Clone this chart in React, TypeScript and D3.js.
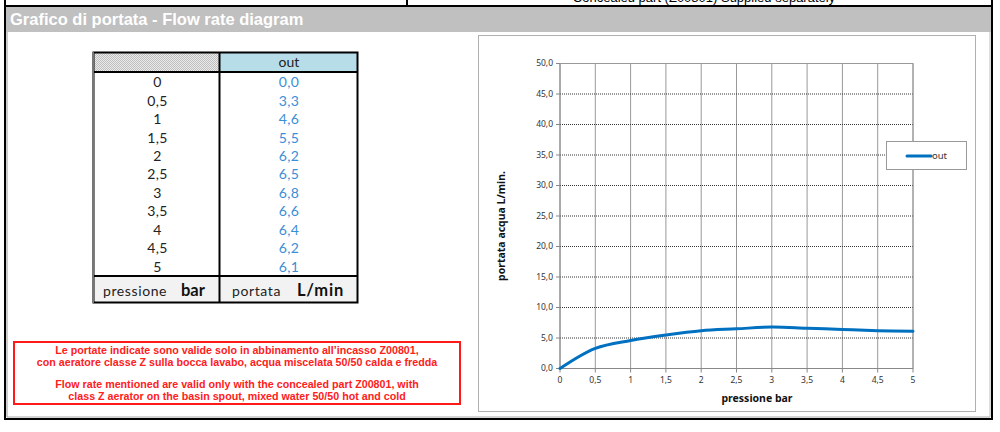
import React from "react";
import * as d3 from "d3";

const pressure = [0, 0.5, 1, 1.5, 2, 2.5, 3, 3.5, 4, 4.5, 5];
const flow = [0, 3.3, 4.6, 5.5, 6.2, 6.5, 6.8, 6.6, 6.4, 6.2, 6.1];
const xTicks = [0, 0.5, 1, 1.5, 2, 2.5, 3, 3.5, 4, 4.5, 5];
const yTicks = [0, 5, 10, 15, 20, 25, 30, 35, 40, 45, 50];
const seriesName = "out";
const noteLines = [
  "Le portate indicate sono valide solo in abbinamento all\u2019incasso Z00801,",
  "con aeratore classe Z sulla bocca lavabo, acqua miscelata 50/50 calda e fredda",
  "",
  "Flow rate mentioned are valid only with the concealed part Z00801, with",
  "class Z aerator on the basin spout, mixed water 50/50 hot and cold",
];

const comma = (v: number, f: string) => d3.format(f)(v).replace(".", ",");

export default function App() {
  const x = d3.scaleLinear().domain([0, 5]).range([560, 913]);
  const y = d3.scaleLinear().domain([0, 50]).range([368.5, 63.5]);
  const line = d3
    .line<number>()
    .x((_, i) => x(pressure[i]))
    .y((d) => y(d))
    .curve(d3.curveCatmullRom.alpha(0.5));
  const rowY = d3.scaleLinear().domain([0, pressure.length - 1]).range([82.3, 266.7]);
  const noteY = d3.scaleLinear().domain([0, 4]).range([350.5, 396]);

  const tableFont = "Lato, 'Noto Sans', sans-serif";
  const chartFont = "'Noto Sans', Lato, sans-serif";
  const arial = "'Liberation Sans', Arial, sans-serif";

  return (
    <svg
      width={1000}
      height={432}
      style={{ position: "absolute", left: 0, top: 0, background: "#fff" }}
    >
      <defs>
        <pattern id="chk" width={2} height={2} patternUnits="userSpaceOnUse">
          <rect width={2} height={2} fill="#ececec" />
          <rect width={1} height={1} fill="#bdbdbd" />
          <rect x={1} y={1} width={1} height={1} fill="#bdbdbd" />
        </pattern>
      </defs>

      {/* top cut-off text */}
      <text x={704} y={2.2} textAnchor="middle" fontFamily={arial} fontSize={13} fill="#000">
        Concealed part (Z00801) Supplied separately
      </text>
      <line x1={407} x2={407} y1={0} y2={6} stroke="#000" strokeWidth={2} />

      {/* gray header */}
      <rect x={6} y={7} width={986} height={25} fill="#c0c0c0" />
      <text x={10} y={25} fontFamily={arial} fontWeight="bold" fontSize={16.5} fill="#fff">
        Grafico di portata - Flow rate diagram
      </text>

      {/* outer frame */}
      <line x1={4} x2={993} y1={6} y2={6} stroke="#000" strokeWidth={2} />
      <line x1={5} x2={5} y1={0} y2={420} stroke="#000" strokeWidth={2} />
      <line x1={7} x2={7} y1={32} y2={417} stroke="#999" strokeWidth={1} />
      <line x1={992} x2={992} y1={0} y2={420} stroke="#000" strokeWidth={2} />
      <line x1={990} x2={990} y1={32} y2={417} stroke="#bbb" strokeWidth={1} />
      <line x1={4} x2={993} y1={419} y2={419} stroke="#000" strokeWidth={2} />
      <line x1={7} x2={990} y1={417} y2={417} stroke="#aaa" strokeWidth={1} />

      {/* table */}
      <rect x={93.5} y={52.5} width={125.5} height={19.5} fill="url(#chk)" />
      <rect x={219.5} y={52.5} width={138} height={19.5} fill="#b7dee8" />
      <rect x={93.5} y={276} width={264} height={26.5} fill="#f2f2f2" />
      <text x={289} y={62.5} dy="0.35em" textAnchor="middle" fontFamily={tableFont} fontSize={14} fill="#222">
        {seriesName}
      </text>
      {pressure.map((p, i) => (
        <g key={i}>
          <text x={157.5} y={rowY(i)} dy="0.35em" textAnchor="middle" fontFamily={tableFont} fontSize={14} fill="#222" letterSpacing={0.3}>
            {comma(p, "")}
          </text>
          <text x={289} y={rowY(i)} dy="0.35em" textAnchor="middle" fontFamily={tableFont} fontSize={14} fill="#3b8ed8" letterSpacing={0.3}>
            {comma(flow[i], ".1f")}
          </text>
        </g>
      ))}
      <text x={103} y={296} fontFamily={tableFont} fontSize={14} fill="#222" letterSpacing={0.6}>pressione</text>
      <text x={181} y={296} fontFamily={tableFont} fontSize={16.5} fontWeight="bold" fill="#111">bar</text>
      <text x={232} y={296} fontFamily={tableFont} fontSize={14} fill="#222" letterSpacing={0.6}>portata</text>
      <text x={297} y={296} fontFamily={tableFont} fontSize={16.5} fontWeight="bold" fill="#111" letterSpacing={0.8}>L/min</text>
      <g stroke="#000" strokeWidth={2} fill="none">
        <rect x={93.5} y={52.5} width={264} height={250} />
        <line x1={219.5} x2={219.5} y1={52.5} y2={302.5} />
        <line x1={93.5} x2={357.5} y1={72} y2={72} />
        <line x1={93.5} x2={357.5} y1={276} y2={276} />
      </g>
      <line x1={93} x2={93} y1={52} y2={303} stroke="#777" strokeWidth={2} />

      {/* red note */}
      <rect x={14} y={342} width={446} height={62} fill="none" stroke="#ff1a1a" strokeWidth={2} />
      {noteLines.map((t, i) => (
        <text key={i} x={237} y={noteY(i)} dy="0.35em" textAnchor="middle" fontFamily={arial} fontWeight="bold" fontSize={10.7} fill="#ff2020">
          {t}
        </text>
      ))}

      {/* chart box */}
      <rect x={478.5} y={35.5} width={497} height={376} fill="#fff" stroke="#b0b0b0" strokeWidth={1} />

      {/* grid */}
      {yTicks.map((t) => (
        <line key={"gy" + t} x1={x(0)} x2={x(5)} y1={y(t)} y2={y(t)} stroke="#333" strokeWidth={1} strokeDasharray="1,1" />
      ))}
      {xTicks.map((t) => (
        <line key={"gx" + t} x1={x(t)} x2={x(t)} y1={y(0)} y2={y(50)} stroke="#333" strokeWidth={1} strokeDasharray="1,1" />
      ))}
      <line x1={x(0)} x2={x(5)} y1={y(50)} y2={y(50)} stroke="#999" />
      <line x1={x(5)} x2={x(5)} y1={y(0)} y2={y(50)} stroke="#999" />
      <line x1={x(0)} x2={x(0)} y1={y(0)} y2={y(50)} stroke="#888" />
      <line x1={x(0)} x2={x(5)} y1={y(0)} y2={y(0)} stroke="#888" />

      {/* ticks */}
      {yTicks.map((t) => (
        <g key={"ty" + t}>
          <line x1={x(0) - 4} x2={x(0)} y1={y(t)} y2={y(t)} stroke="#888" />
          <text x={x(0) - 7} y={y(t)} dy="0.35em" textAnchor="end" fontFamily={chartFont} fontSize={8.5} fill="#333">
            {comma(t, ".1f")}
          </text>
        </g>
      ))}
      {xTicks.map((t) => (
        <g key={"tx" + t}>
          <line x1={x(t)} x2={x(t)} y1={y(0)} y2={y(0) + 4} stroke="#888" />
          <text x={x(t)} y={y(0) + 12} dy="0.35em" textAnchor="middle" fontFamily={chartFont} fontSize={8.5} fill="#333">
            {comma(t, "")}
          </text>
        </g>
      ))}

      {/* series */}
      <path d={line(flow) || ""} fill="none" stroke="#0070c0" strokeWidth={3} strokeLinecap="round" />

      {/* axis titles */}
      <text x={757} y={402} textAnchor="middle" fontFamily={chartFont} fontWeight="bold" fontSize={10.5} fill="#111">
        pressione bar
      </text>
      <text transform="translate(505,226) rotate(-90)" textAnchor="middle" fontFamily={chartFont} fontWeight="bold" fontSize={10.5} fill="#111">
        portata acqua  L/min.
      </text>

      {/* legend */}
      <rect x={886.5} y={141.5} width={80} height={28} fill="#fff" stroke="#999" />
      <line x1={907} x2={931} y1={156} y2={156} stroke="#0070c0" strokeWidth={3} strokeLinecap="round" />
      <text x={932} y={156} dy="0.35em" fontFamily={chartFont} fontSize={9.5} fill="#333">
        {seriesName}
      </text>
    </svg>
  );
}
